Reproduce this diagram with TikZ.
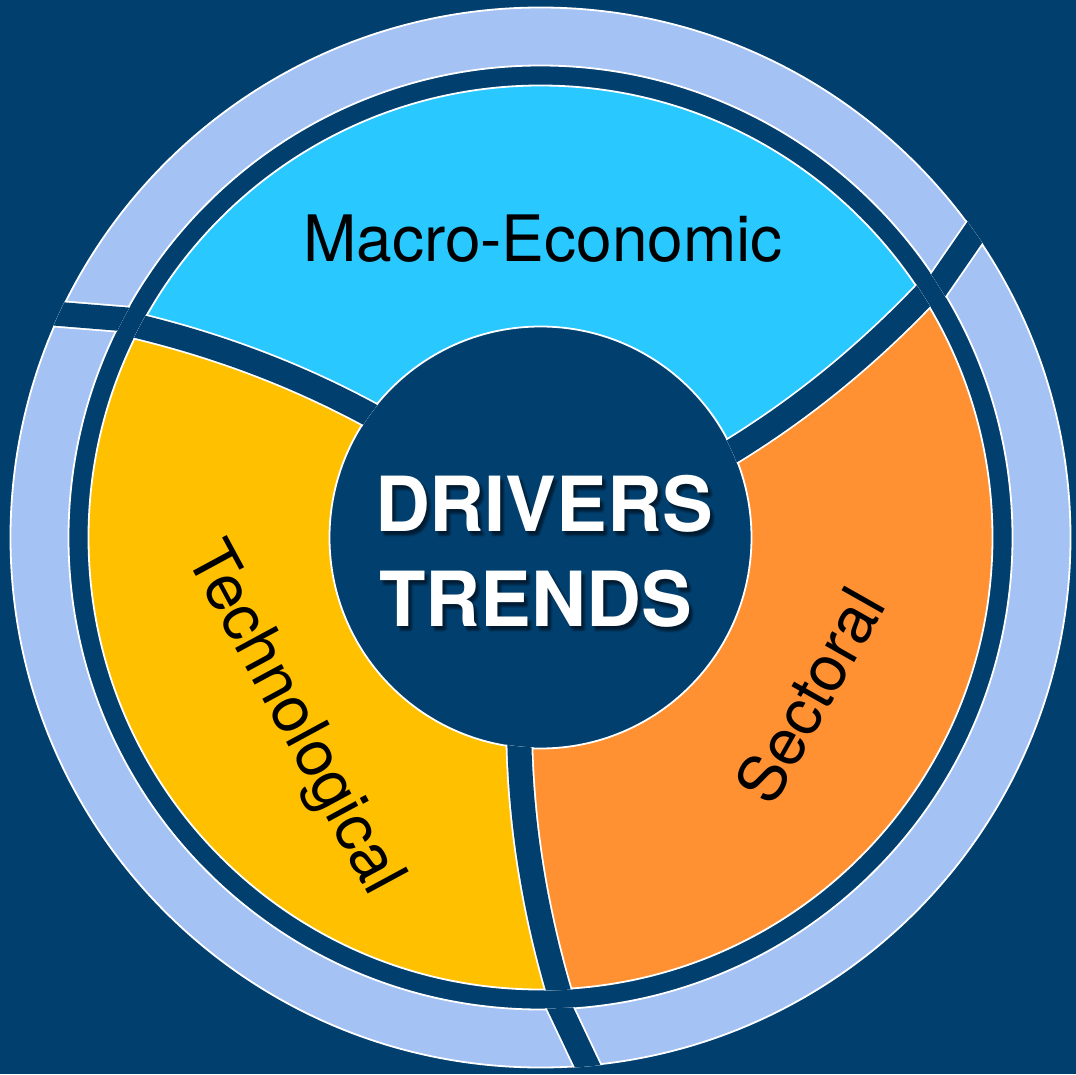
\documentclass[tikz,border=0pt]{standalone}
\usepackage{fontspec}
\setmainfont{TeX Gyre Heros}
\definecolor{navy}{RGB}{0,63,110}
\definecolor{ringblue}{RGB}{164,194,244}
\definecolor{macrocyan}{RGB}{41,200,255}
\definecolor{sectorange}{RGB}{255,145,51}
\definecolor{techyellow}{RGB}{255,192,0}
\begin{document}
\begin{tikzpicture}[x=1pt,y=1pt,
  outline/.style={white, line width=1.8pt},
  cut/.style={navy, line width=24pt, preaction={draw=white, line width=27.6pt}},
  label/.style={inner sep=0, text=black, font=\fontsize{64}{64}\selectfont},
  core/.style={inner sep=0, anchor=base, text=white, font=\fontsize{76}{76}\selectfont\bfseries},
  coreshadow/.style={core, text=black, opacity=0.09}]
% canvas
\fill[navy] (-540.5,-536.5) rectangle (535.5,537.5);
\useasboundingbox (-540.5,-536.5) rectangle (535.5,537.5);

% outer light ring
\fill[ringblue] (530,0) arc[start angle=0, end angle=360, radius=530]
  -- (472,0) arc[start angle=360, end angle=0, radius=472] -- cycle;
\draw[outline] (0,0) circle (530) (0,0) circle (472);

% three block arcs: one template region, turned by 0/120/240 degrees
\foreach \ang/\col in {0/sectorange, 120/macrocyan, 240/techyellow} {
  \begin{scope}[rotate=\ang]
    \clip (0,0) -- (-21.7,-185.5) -- (-21,-210.5)
      .. controls (-18.67,-291.17) and (-5.67,-372) .. (18,-453)
      -- (25,-477) -- (45,-700) -- (700,-700) -- (700,455)
      -- (400.6,260.2) -- (383.3,242.1)
      .. controls (325.0,181.1) and (261.5,129.4) .. (192.8,87.1)
      -- (171.5,74.0) -- cycle;
    \fill[\col] (452,0) arc[start angle=0, end angle=360, radius=452]
      -- (211,0) arc[start angle=360, end angle=0, radius=211] -- cycle;
  \end{scope}
}
\draw[outline] (0,0) circle (452) (0,0) circle (211);

% curved cuts between the block arcs, and straight cuts in the outer ring
\foreach \ang in {0,120,240} {
  \begin{scope}[rotate=\ang]
    \begin{scope}
      \clip (453,0) arc[start angle=0, end angle=360, radius=453]
        -- (210,0) arc[start angle=360, end angle=0, radius=210] -- cycle;
      \draw[cut] (-21.7,-185.5) -- (-21,-210.5)
        .. controls (-18.67,-291.17) and (-5.67,-372) .. (18,-453) -- (25,-477);
    \end{scope}
    \begin{scope}
      \clip (531,0) arc[start angle=0, end angle=360, radius=531]
        -- (471,0) arc[start angle=360, end angle=0, radius=471] -- cycle;
      \draw[cut] (11.9,-454.4) -- (56.1,-547.6);
    \end{scope}
  \end{scope}
}

% segment labels
\node[label, anchor=base] (macro) at (2.5,275.5) {Macro-Economic};
\node[label, rotate=-61.6] (tech) at (-248,-182) {Technological};
\node[label, rotate=60.5] (sect) at (269,-158) {Sectoral};

% centre title with a soft drop shadow
\foreach \dx/\dy in {1/-2,2/-3,3/-4,4/-5,2/-5,4/-3,3/-6,5/-4} {
  \node[coreshadow] at ({3.5+\dx},{6.5+\dy}) {DRIVERS};
  \node[coreshadow] at ({-5+\dx},{-88.5+\dy}) {TRENDS};
}
\node[core] (drivers) at (3.5,6.5) {DRIVERS};
\node[core] (trends) at (-5,-88.5) {TRENDS};
\end{tikzpicture}
\end{document}
